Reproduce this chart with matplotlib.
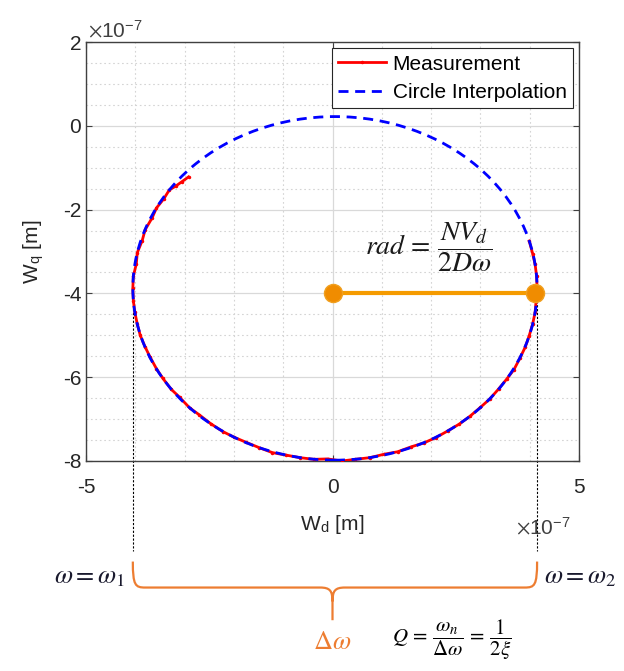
import numpy as np
import matplotlib
matplotlib.use('Agg')
import matplotlib.pyplot as plt
from matplotlib.patches import Circle, PathPatch
from matplotlib.path import Path

plt.rcParams['font.family'] = ['Liberation Sans', 'DejaVu Sans']
plt.rcParams['mathtext.fontset'] = 'stix'

# measured trajectory (x 1e-7 m)
meas_x = [-2.92, -3.05, -3.18, -3.31, -3.42, -3.57, -3.66, -3.80, -3.86, -3.96, -3.98,
          -4.04, -4.05, -4.04, -4.01, -3.96, -3.90, -3.80, -3.70, -3.57, -3.44, -3.27,
          -3.10, -2.90, -2.70, -2.47, -2.22, -2.00, -1.76, -1.49, -1.22, -0.94, -0.66,
          -0.38, -0.10, 0.19, 0.46, 0.76, 1.04, 1.32, 1.60, 1.85, 2.10, 2.34, 2.57,
          2.79, 3.00, 3.19, 3.37, 3.53, 3.68, 3.80, 3.91, 3.99, 4.06, 4.11, 4.13,
          4.15, 4.14, 4.11, 4.06, 3.99]
meas_y = [-1.22, -1.33, -1.44, -1.53, -1.74, -1.96, -2.20, -2.48, -2.74, -3.03, -3.30,
          -3.59, -3.88, -4.17, -4.45, -4.73, -5.00, -5.28, -5.52, -5.80, -6.03, -6.29,
          -6.48, -6.73, -6.90, -7.11, -7.30, -7.43, -7.55, -7.68, -7.80, -7.86, -7.92,
          -7.96, -7.95, -8.00, -7.96, -7.92, -7.84, -7.78, -7.66, -7.57, -7.44, -7.28,
          -7.12, -6.93, -6.72, -6.52, -6.28, -6.05, -5.82, -5.55, -5.28, -5.01, -4.73,
          -4.45, -4.17, -3.88, -3.59, -3.31, -3.05, -2.75]

# fitted circle (x 1e-7 m)
circ_cx = 0.05
circ_cy = -3.88
circ_r = 4.1

# radius marker
rad_x = [0.0, 4.1]
rad_y = [-4.0, -4.0]

xticks = [-5, 0, 5]
yticks = [2, 0, -2, -4, -6, -8]

fig = plt.figure(figsize=(6.24, 6.71), dpi=100)
W, H = 624, 671
ax = fig.add_axes([86 / W, 1 - 461 / H, 493 / W, 419 / H])

ax.plot(meas_x, meas_y, color='red', lw=2, marker='.', ms=3, label='Measurement', zorder=3)
circ = Circle((circ_cx, circ_cy), circ_r, fill=False, ec='blue', lw=2,
              linestyle=(0, (3.6, 2.4)), zorder=4)
ax.add_patch(circ)
ax.plot([], [], color='blue', lw=2, linestyle=(0, (3.6, 2.4)), label='Circle Interpolation')

ax.plot(rad_x, rad_y, color='#F59B00', lw=3, zorder=5)
ax.plot(rad_x, rad_y, 'o', color='#F08C00', mec='#F0A020', ms=13, zorder=6)

# dashed guides down to the brace
for xe in [circ_cx - circ_r, circ_cx + circ_r]:
    ax.plot([xe, xe], [-4.0, -10.15], color='black', ls=(0, (2, 1.5)), lw=0.8,
            clip_on=False, zorder=2)

# brace
xl = circ_cx - circ_r
xr = circ_cx + circ_r
xc = 0.0
yt, yh, ym, yb = -10.40, -11.02, -11.35, -11.80
verts = [(xl, yt), (xl, yh + 0.05), (xl + 0.05, yh), (xl + 0.25, yh),
         (xc - 0.25, yh), (xc - 0.05, yh), (xc, yh - 0.08), (xc, ym),
         (xc, yb),
         (xc, ym), (xc, yh - 0.08), (xc + 0.05, yh), (xc + 0.25, yh),
         (xr - 0.25, yh), (xr - 0.05, yh), (xr, yh + 0.05), (xr, yt)]
codes = [Path.MOVETO, Path.CURVE4, Path.CURVE4, Path.CURVE4,
         Path.LINETO, Path.CURVE4, Path.CURVE4, Path.CURVE4,
         Path.LINETO,
         Path.MOVETO, Path.CURVE4, Path.CURVE4, Path.CURVE4,
         Path.LINETO, Path.CURVE4, Path.CURVE4, Path.CURVE4]
ax.add_patch(PathPatch(Path(verts, codes), fill=False, ec='#ED7D31', lw=1.6, clip_on=False))

ax.set_xlim(-5, 5)
ax.set_ylim(-8, 2)
ax.set_xticks(xticks)
ax.set_xticklabels([str(t) for t in xticks])
ax.set_yticks(yticks)
ax.set_yticklabels([str(t) for t in yticks])
ax.set_xticks(np.arange(-5, 6, 1), minor=True)
ax.set_yticks(np.arange(-8, 2.5, 0.5), minor=True)
ax.grid(which='major', color='#d9d9d9', lw=0.9)
ax.grid(which='minor', color='#d4d4d4', lw=0.8, ls=(0, (1.5, 2.5)))
ax.set_axisbelow(True)
ax.tick_params(which='major', direction='in', length=4, top=True, right=True,
               labelsize=15, colors='#404040', labelcolor='#262626')
ax.tick_params(axis='x', pad=12)
ax.tick_params(which='minor', length=0)
for s in ax.spines.values():
    s.set_color('#404040')
    s.set_linewidth(1.0)

ax.set_xlabel(r'W$_\mathregular{d}$ [m]', fontsize=15, color='#262626', labelpad=12)
ax.set_ylabel(r'W$_\mathregular{q}$ [m]', fontsize=15, color='#262626', labelpad=12)

leg = ax.legend(loc='upper right', fontsize=15, frameon=True, fancybox=False,
                framealpha=1, edgecolor='#262626', handlelength=2.3, borderaxespad=0.3,
                borderpad=0.3, labelspacing=0.45, handletextpad=0.3)
leg.get_frame().set_linewidth(0.8)

# exponent labels
fig.text(88 / W, 1 - 30 / H, r'$\times\mathregular{10^{-7}}$', fontsize=15, color='#404040',
         va='center', ha='left')
fig.text(516 / W, 1 - 527 / H, r'$\times\mathregular{10^{-7}}$', fontsize=15, color='#404040',
         va='center', ha='left')

ax.text(0.66, -2.9, r'$rad\,=\,\dfrac{NV_d}{2D\omega}$', fontsize=20, color='#1a1a1a',
        ha='left', va='center')

fig.text(125 / W, 1 - 577 / H, r'$\omega = \omega_1$', fontsize=19, color='#1a1a2e',
         ha='right', va='center')
fig.text(544 / W, 1 - 577 / H, r'$\omega = \omega_2$', fontsize=19, color='#1a1a2e',
         ha='left', va='center')
fig.text(332 / W, 1 - 642 / H, r'$\Delta\omega$', fontsize=19, color='#ED7D31',
         ha='center', va='center')
fig.text(392 / W, 1 - 640 / H, r'$Q\,=\,\dfrac{\omega_n}{\Delta\omega}\,=\,\dfrac{1}{2\xi}$',
         fontsize=15, color='black', ha='left', va='center')

fig.savefig('out.png', dpi=100)
